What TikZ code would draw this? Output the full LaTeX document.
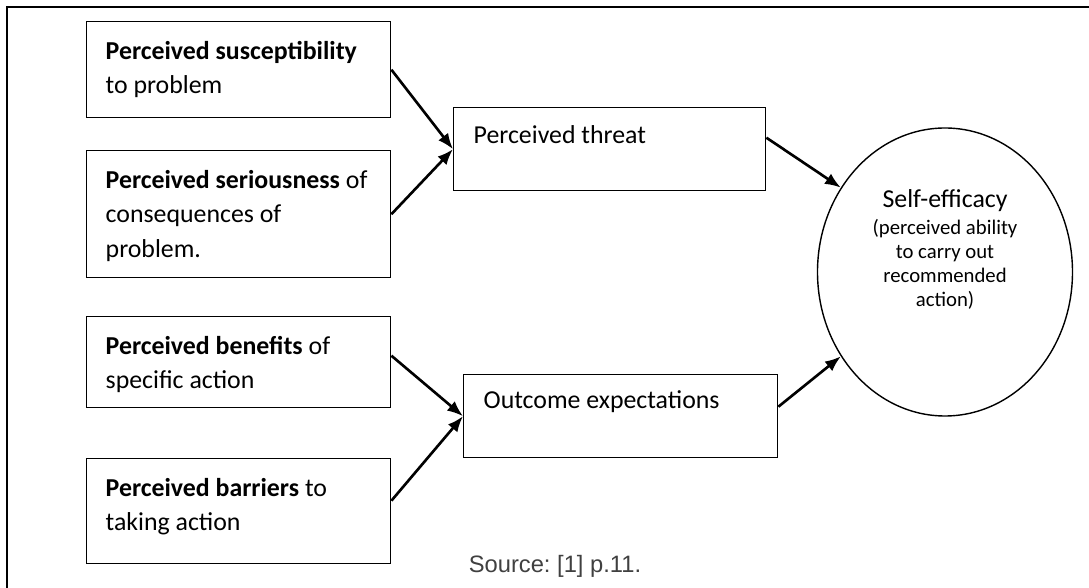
\documentclass[tikz,border=0pt]{standalone}
\usepackage{fontspec}
\setmainfont{Carlito}
\newfontfamily\sourcefont{Liberation Sans}
\usepackage{tikz}
\usetikzlibrary{arrows.meta,shapes.geometric}

\tikzset{
  factor/.style={draw, line width=0.8pt, anchor=north west, align=flush left,
    text width=5.32cm, inner xsep=0.38cm, inner ysep=0pt, text height=0.75cm},
  stage/.style={draw, line width=0.8pt, anchor=north west, align=flush left,
    inner xsep=0.4cm, inner ysep=0pt},
  link/.style={line width=1.5pt, -{Latex[length=9pt,width=7pt]}}
}

\begin{document}
\begin{tikzpicture}[every node/.style={font=\fontsize{14.7}{19.6}\selectfont}]
  \useasboundingbox (0,0) rectangle (21.78,-11.76);
  \draw[line width=1.3pt] (0.14,-11.76) |- (21.78,-0.14);

  \draw (1.72,-0.42) node[factor, text depth=1.17cm] (susceptibility) {\textbf{Perceived susceptibility}\\ to problem};
  \draw (1.72,-3.00) node[factor, text depth=1.79cm] (seriousness) {\textbf{Perceived seriousness} of\\ consequences of\\ problem.};
  \draw (1.72,-6.32) node[factor, text depth=1.07cm] (benefits) {\textbf{Perceived benefits} of\\ specific action};
  \draw (1.72,-9.16) node[factor, text depth=1.35cm] (barriers) {\textbf{Perceived barriers} to\\ taking action};

  \draw (9.06,-2.14) node[stage, text width=5.44cm, text height=0.72cm, text depth=0.94cm] (threat) {Perceived threat};
  \draw (9.26,-7.48) node[stage, text width=5.48cm, text height=0.68cm, text depth=0.98cm] (outcome) {Outcome expectations};

  \draw (18.90,-5.44) node[ellipse, draw, line width=0.8pt, minimum width=5.10cm, minimum height=5.76cm,
    inner sep=0pt, text width=3.4cm, align=flush center, text height=0.5cm, text depth=3.08cm] (selfefficacy)
    {Self-efficacy\par\vspace{1.7pt}\fontsize{11.8}{13.7}\selectfont (perceived ability\\ to carry out\\ recommended\\ action)\par};

  \draw (11.10,-11.46) node[anchor=base, font=\sourcefont\fontsize{13.5}{16}\selectfont, text=black!75] (source) {Source:\ [1] p.11.};

  \path[link] (susceptibility.east) edge (threat.west);
  \path[link] (seriousness.east) edge (threat.west);
  \path[link] ([yshift=0.13cm]benefits.east) edge (outcome.west);
  \path[link] ([yshift=0.21cm]barriers.east) edge (outcome.west);
  \path[link] ([yshift=0.23cm]threat.east) edge (selfefficacy.141);
  \path[link] ([yshift=0.19cm]outcome.east) edge (selfefficacy.219);
\end{tikzpicture}
\end{document}
